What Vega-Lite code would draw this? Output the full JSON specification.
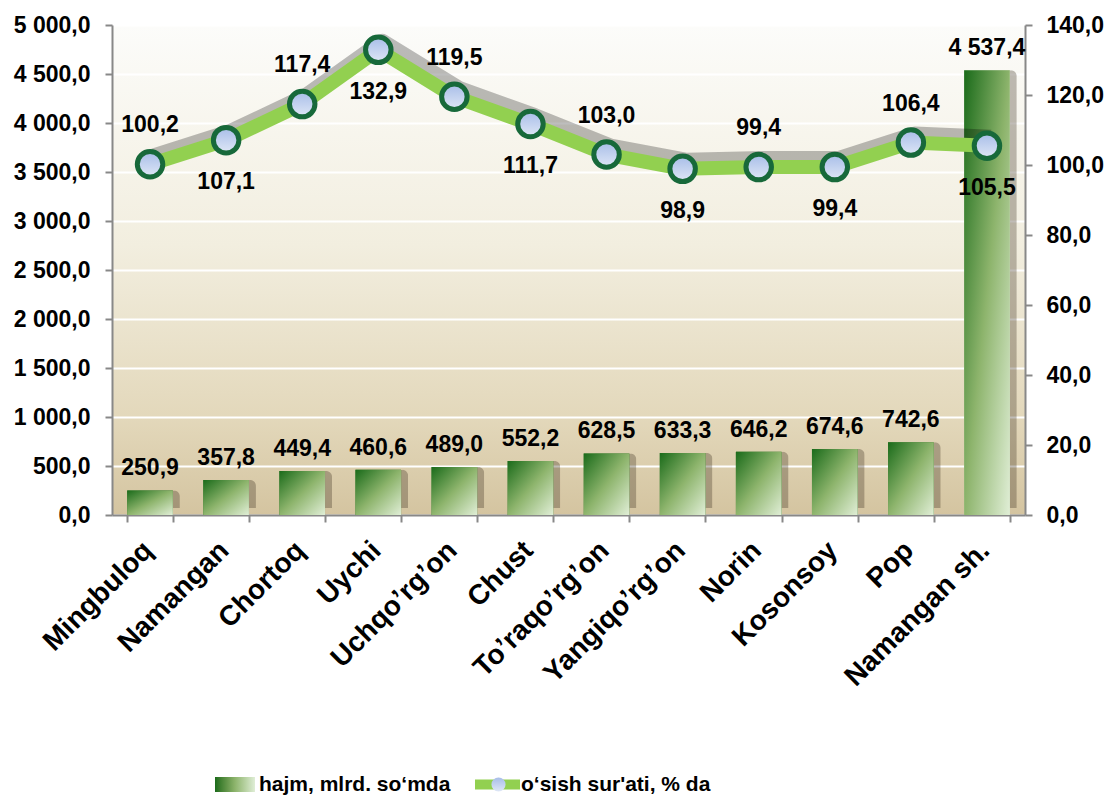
{
  "$schema": "https://vega.github.io/schema/vega-lite/v6.json",
  "width": 913,
  "height": 490,
  "autosize": {"type": "none"},
  "padding": {"left": 112, "top": 25, "right": 84, "bottom": 283},
  "background": "white",
  "view": {
    "fill": {"gradient": "linear", "x1": 0, "y1": 0, "x2": 0, "y2": 1,
      "stops": [
        {"offset": 0, "color": "#fcfcfa"},
        {"offset": 0.45, "color": "#f2eedf"},
        {"offset": 0.8, "color": "#e3d8bb"},
        {"offset": 1, "color": "#d4c4a0"}
      ]},
    "stroke": null
  },
  "config": {
    "locale": {"number": {"decimal": ",", "thousands": " ", "grouping": [3], "currency": ["", ""]}},
    "font": "Liberation Sans",
    "axis": {
      "labelFont": "Liberation Sans",
      "labelFontWeight": "bold",
      "labelColor": "#000000",
      "domainColor": "#888888",
      "domainWidth": 2,
      "tickColor": "#888888",
      "tickWidth": 2,
      "tickSize": 7,
      "title": null
    },
    "legend": {"padding": 0}
  },
  "data": {"values": [
    {"district": "Mingbuloq", "hajm": 250.9, "osish": 100.2},
    {"district": "Namangan", "hajm": 357.8, "osish": 107.1},
    {"district": "Chortoq", "hajm": 449.4, "osish": 117.4},
    {"district": "Uychi", "hajm": 460.6, "osish": 132.9},
    {"district": "Uchqo’rg’on", "hajm": 489.0, "osish": 119.5},
    {"district": "Chust", "hajm": 552.2, "osish": 111.7},
    {"district": "To’raqo’rg’on", "hajm": 628.5, "osish": 103.0},
    {"district": "Yangiqo’rg’on", "hajm": 633.3, "osish": 98.9},
    {"district": "Norin", "hajm": 646.2, "osish": 99.4},
    {"district": "Kosonsoy", "hajm": 674.6, "osish": 99.4},
    {"district": "Pop", "hajm": 742.6, "osish": 106.4},
    {"district": "Namangan sh.", "hajm": 4537.4, "osish": 105.5}
  ]},
  "encoding": {
    "x": {
      "field": "district", "type": "nominal", "sort": null,
      "scale": {"paddingInner": 0.4, "paddingOuter": 0.2},
      "axis": {
        "labelAngle": -45, "labelAlign": "right", "labelBaseline": "middle",
        "labelFontSize": 28, "labelPadding": 24, "labelOffset": -2, "tickBand": "extent",
        "labelOverlap": false, "labelLimit": 400
      }
    }
  },
  "layer": [
    {
      "encoding": {
        "y": {
          "field": "hajm", "type": "quantitative",
          "scale": {"domain": [0, 5000], "nice": false},
          "axis": {
            "values": [0, 500, 1000, 1500, 2000, 2500, 3000, 3500, 4000, 4500, 5000],
            "format": ",.1f", "grid": true, "gridColor": "#ffffff", "gridWidth": 2,
            "labelFontSize": 23, "labelPadding": 15
          }
        }
      },
      "layer": [
        {
          "mark": {"type": "bar", "fill": "#3a3020", "opacity": 0.32, "xOffset": 7, "yOffset": -7, "cornerRadius": 6}
        },
        {
          "mark": {"type": "bar"},
          "encoding": {
            "fill": {
              "field": "hajm", "type": "quantitative",
              "scale": {"domain": [0, 5000], "range": ["#1a6b1a", "#8db46c", "#e0eed6"], "domainMid": 2500},
              "legend": {
                "orient": "none", "legendX": 103, "legendY": 752,
                "direction": "horizontal", "gradientLength": 40, "gradientThickness": 15,
                "gradientStrokeWidth": 0, "labelOpacity": 0, "labelFontSize": 1, "tickCount": 2,
                "title": "hajm, mlrd. so‘mda", "titleOrient": "right",
                "titleFont": "Liberation Sans", "titleFontSize": 21, "titleFontWeight": "bold",
                "titleColor": "#000000", "titlePadding": 4, "titleLimit": 400
              }
            }
          }
        },
        {
          "mark": {"type": "bar", "fill": {"gradient": "linear", "x1": 0, "y1": 0, "x2": 1, "y2": 1,
            "stops": [
              {"offset": 0, "color": "#1a6b1a"},
              {"offset": 0.5, "color": "#8db46c"},
              {"offset": 1, "color": "#e0eed6"}
            ]}}
        },
        {
          "mark": {"type": "text", "fontSize": 23, "fontWeight": "bold", "font": "Liberation Sans", "dy": -15, "baseline": "alphabetic", "color": "#000000"},
          "encoding": {"text": {"field": "hajm", "type": "quantitative", "format": ",.1f"}}
        }
      ]
    },
    {
      "encoding": {
        "y": {
          "field": "osish", "type": "quantitative",
          "scale": {"domain": [0, 140], "nice": false},
          "axis": {
            "orient": "right",
            "values": [0, 20, 40, 60, 80, 100, 120, 140],
            "format": ",.1f", "grid": false,
            "labelFontSize": 23, "labelPadding": 14
          }
        }
      },
      "layer": [
        {
          "mark": {"type": "line", "stroke": "#000000", "strokeWidth": 18, "opacity": 0.26, "xOffset": 4, "yOffset": -7, "strokeJoin": "round"},
          "encoding": {}
        },
        {
          "mark": {"type": "line", "strokeWidth": 14, "strokeJoin": "round"},
          "encoding": {
            "stroke": {
              "datum": "o‘sish sur'ati, % da",
              "scale": {"range": ["#92d050"]},
              "legend": {
                "orient": "none", "legendX": 358, "legendY": 732, "title": null,
                "symbolType": "stroke", "symbolSize": 2025, "symbolStrokeWidth": 10,
                "labelFont": "Liberation Sans", "labelFontSize": 21, "labelFontWeight": "bold",
                "labelColor": "#000000", "labelOffset": -4, "labelLimit": 400
              }
            }
          }
        },
        {
          "mark": {"type": "point", "filled": true, "size": 650, "strokeWidth": 5, "stroke": "#17693a", "opacity": 1,
            "fill": {"gradient": "linear", "x1": 0, "y1": 0, "x2": 0, "y2": 1,
              "stops": [{"offset": 0, "color": "#a7bde8"}, {"offset": 1, "color": "#dfe7f6"}]}},
          "encoding": {
            "shape": {
              "datum": "marker",
              "scale": {"range": ["circle"]},
              "legend": {
                "orient": "none", "legendX": 377, "legendY": 750, "zindex": 2, "title": null,
                "symbolSize": 200, "symbolFillColor": "#c5d4ef", "symbolStrokeColor": "#17693a", "symbolStrokeWidth": 4, "symbolOpacity": 1,
                "labelExpr": "''", "labelFontSize": 1
              }
            }
          }
        },
        {
          "transform": [{"window": [{"op": "row_number", "as": "rn"}]}, {"filter": "datum.rn % 2 == 1"}],
          "mark": {"type": "text", "fontSize": 23, "fontWeight": "bold", "font": "Liberation Sans", "dy": -32, "baseline": "alphabetic", "color": "#000000"},
          "encoding": {"text": {"field": "osish", "type": "quantitative", "format": ",.1f"}}
        },
        {
          "transform": [{"window": [{"op": "row_number", "as": "rn"}]}, {"filter": "datum.rn % 2 == 0"}],
          "mark": {"type": "text", "fontSize": 23, "fontWeight": "bold", "font": "Liberation Sans", "dy": 49, "baseline": "alphabetic", "color": "#000000"},
          "encoding": {"text": {"field": "osish", "type": "quantitative", "format": ",.1f"}}
        }
      ]
    }
  ],
  "resolve": {"scale": {"y": "independent"}}
}
